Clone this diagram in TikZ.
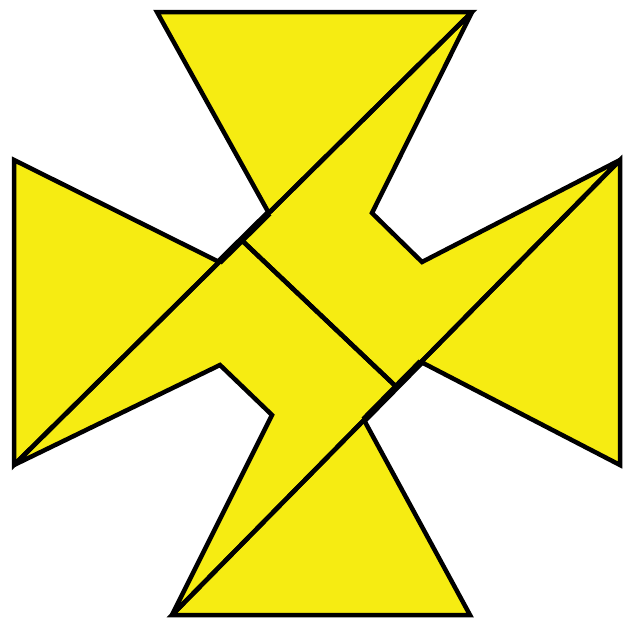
\documentclass[tikz,border=0pt]{standalone}
\definecolor{yel}{RGB}{246,236,18}
\begin{document}
\begin{tikzpicture}[x=1pt,y=-1pt,
  piecefill/.style={fill=yel},
  pieceline/.style={draw=black, line width=4.5pt, line join=miter, miter limit=3},
  notch/.style={draw=black, line width=7pt}]
\useasboundingbox (0,0) rectangle (633,619);
\coordinate (A) at (157,12);
\coordinate (B) at (472,12);
\coordinate (C) at (372,213);
\coordinate (D) at (422,262);
\coordinate (E) at (620,160);
\coordinate (F) at (620,465);
\coordinate (G) at (421.1,362);
\coordinate (H) at (364,420);
\coordinate (I) at (470,615);
\coordinate (J) at (172,615);
\coordinate (K) at (272,415);
\coordinate (L) at (220,365);
\coordinate (M) at (14,465);
\coordinate (N) at (14,160);
\coordinate (O) at (219.2,262);
\coordinate (P) at (268.8,213);
\coordinate (Q) at (241.5,240);
\coordinate (R) at (396.5,387);
% fills
\fill[piecefill] (A) -- (B) -- (P) -- cycle;
\fill[piecefill] (B) -- (C) -- (D) -- (E) -- (R) -- (Q) -- cycle;
\fill[piecefill] (E) -- (F) -- (G) -- cycle;
\fill[piecefill] (J) -- (I) -- (H) -- cycle;
\fill[piecefill] (Q) -- (R) -- (J) -- (K) -- (L) -- (M) -- cycle;
\fill[piecefill] (N) -- (O) -- (M) -- cycle;
% outlines
\draw[notch] (O) -- (P);
\draw[notch] (G) -- (H);
\draw[pieceline] (A) -- (B) -- (P) -- cycle;
\draw[pieceline] (B) -- (C) -- (D) -- (E) -- (R) -- (Q) -- cycle;
\draw[pieceline] (E) -- (F) -- (G) -- cycle;
\draw[pieceline] (J) -- (I) -- (H) -- cycle;
\draw[pieceline] (Q) -- (R) -- (J) -- (K) -- (L) -- (M) -- cycle;
\draw[pieceline] (N) -- (O) -- (M) -- cycle;
\end{tikzpicture}
\end{document}
